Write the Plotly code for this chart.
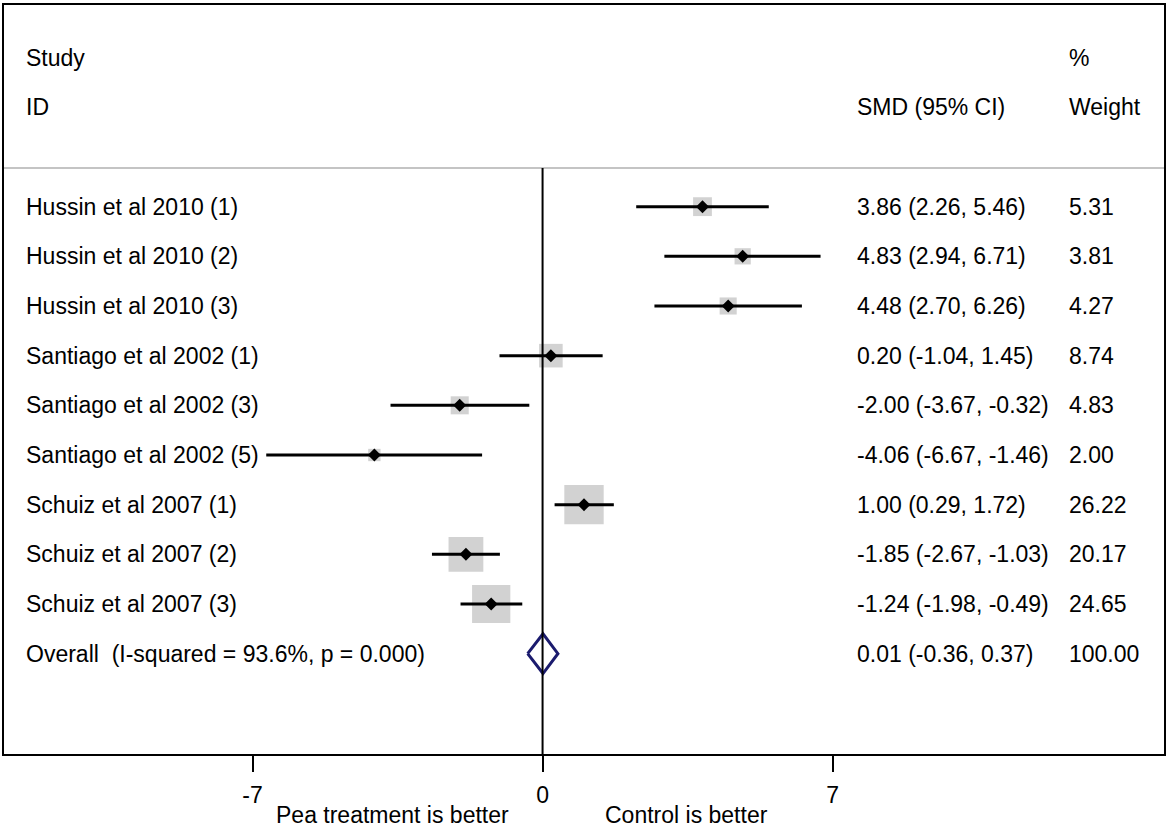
import plotly.graph_objects as go

# study rows, top to bottom
studies = [
    "Hussin et al 2010 (1)",
    "Hussin et al 2010 (2)",
    "Hussin et al 2010 (3)",
    "Santiago et al 2002 (1)",
    "Santiago et al 2002 (3)",
    "Santiago et al 2002 (5)",
    "Schuiz et al 2007 (1)",
    "Schuiz et al 2007 (2)",
    "Schuiz et al 2007 (3)",
]
smd = [3.86, 4.83, 4.48, 0.20, -2.00, -4.06, 1.00, -1.85, -1.24]
ci_low = [2.26, 2.94, 2.70, -1.04, -3.67, -6.67, 0.29, -2.67, -1.98]
ci_high = [5.46, 6.71, 6.26, 1.45, -0.32, -1.46, 1.72, -1.03, -0.49]
weights = [5.31, 3.81, 4.27, 8.74, 4.83, 2.00, 26.22, 20.17, 24.65]

overall_label = "Overall&nbsp; (I-squared = 93.6%, p = 0.000)"
overall_smd = 0.01
overall_low = -0.36
overall_high = 0.37
overall_weight = 100.00

axis_ticks = [-7, 0, 7]
left_note = "Pea treatment is better"
right_note = "Control is better"

FONT = "Liberation Sans, Arial, sans-serif"
FS = 23

rows = list(range(len(studies)))
overall_row = len(studies)

# column positions (x data units) and header rows
label_x = -12.52
smd_x = 7.53
weight_x = 12.65
header_line_y = -0.78
x_range = [-13.0, 15.0]
y_range = [11.02, -4.06]

fig = go.Figure()

# weight boxes
fig.add_trace(go.Scatter(
    x=smd, y=rows, mode="markers",
    marker=dict(symbol="square", color="#bfbfbf",
                size=[7.3 * w ** 0.5 + 2 for w in weights], line=dict(width=0)),
    hoverinfo="skip", showlegend=False,
))

# confidence intervals + point estimates
fig.add_trace(go.Scatter(
    x=smd, y=rows, mode="markers",
    marker=dict(symbol="diamond", color="black", size=10),
    error_x=dict(type="data", symmetric=False,
                 array=[h - m for h, m in zip(ci_high, smd)],
                 arrayminus=[m - l for m, l in zip(smd, ci_low)],
                 color="black", thickness=3, width=0),
    showlegend=False,
))

# overall diamond
dh = 0.4
fig.add_trace(go.Scatter(
    x=[overall_low, overall_smd, overall_high, overall_smd, overall_low],
    y=[overall_row, overall_row - dh, overall_row, overall_row + dh, overall_row],
    mode="lines", line=dict(color="#1b1b6e", width=3),
    showlegend=False,
))

annotations = []


def add_text(x, y, text):
    annotations.append(dict(x=x, y=y, xref="x", yref="y", text=text,
                            showarrow=False, xanchor="left", yanchor="middle",
                            font=dict(family=FONT, size=FS, color="black")))


add_text(label_x, -3, "Study")
add_text(label_x, -2, "ID")
add_text(smd_x, -2, "SMD (95% CI)")
add_text(weight_x, -3, "%")
add_text(weight_x, -2, "Weight")

for r, s, m, lo, hi, w in zip(rows, studies, smd, ci_low, ci_high, weights):
    add_text(label_x, r, s)
    add_text(smd_x, r, f"{m:.2f} ({lo:.2f}, {hi:.2f})")
    add_text(weight_x, r, f"{w:.2f}")

add_text(label_x, overall_row, overall_label)
add_text(smd_x, overall_row, f"{overall_smd:.2f} ({overall_low:.2f}, {overall_high:.2f})")
add_text(weight_x, overall_row, f"{overall_weight:.2f}")

for x, t in [(-3.62, left_note), (3.48, right_note)]:
    annotations.append(dict(x=x, y=0, xref="x", yref="paper", text=t,
                            showarrow=False, xanchor="center", yanchor="middle",
                            yshift=-61, font=dict(family=FONT, size=FS, color="black")))

shapes = [
    dict(type="line", xref="paper", yref="y", x0=0, x1=1,
         y0=header_line_y, y1=header_line_y, line=dict(color="#c4c4c4", width=2)),
    dict(type="line", xref="x", yref="y", x0=0, x1=0,
         y0=header_line_y, y1=y_range[0], line=dict(color="black", width=2)),
]

fig.update_layout(
    width=1170, height=828,
    margin=dict(l=4, r=6, t=3, b=74),
    plot_bgcolor="white", paper_bgcolor="white",
    font=dict(family=FONT, size=FS, color="black"),
    annotations=annotations, shapes=shapes,
    xaxis=dict(range=x_range, tickvals=axis_ticks, ticktext=[str(t) for t in axis_ticks],
               ticks="outside", ticklen=16, tickwidth=2, tickcolor="black",
               showline=True, mirror=True, linecolor="black", linewidth=2,
               showgrid=False, zeroline=False, ticklabelstandoff=3,
               tickfont=dict(family=FONT, size=FS, color="black")),
    yaxis=dict(range=y_range, showticklabels=False, ticks="",
               showline=True, mirror=True, linecolor="black", linewidth=2,
               showgrid=False, zeroline=False),
)

fig.write_html("out.html", config={"displayModeBar": False},
               post_script="document.body.style.margin='0';")
